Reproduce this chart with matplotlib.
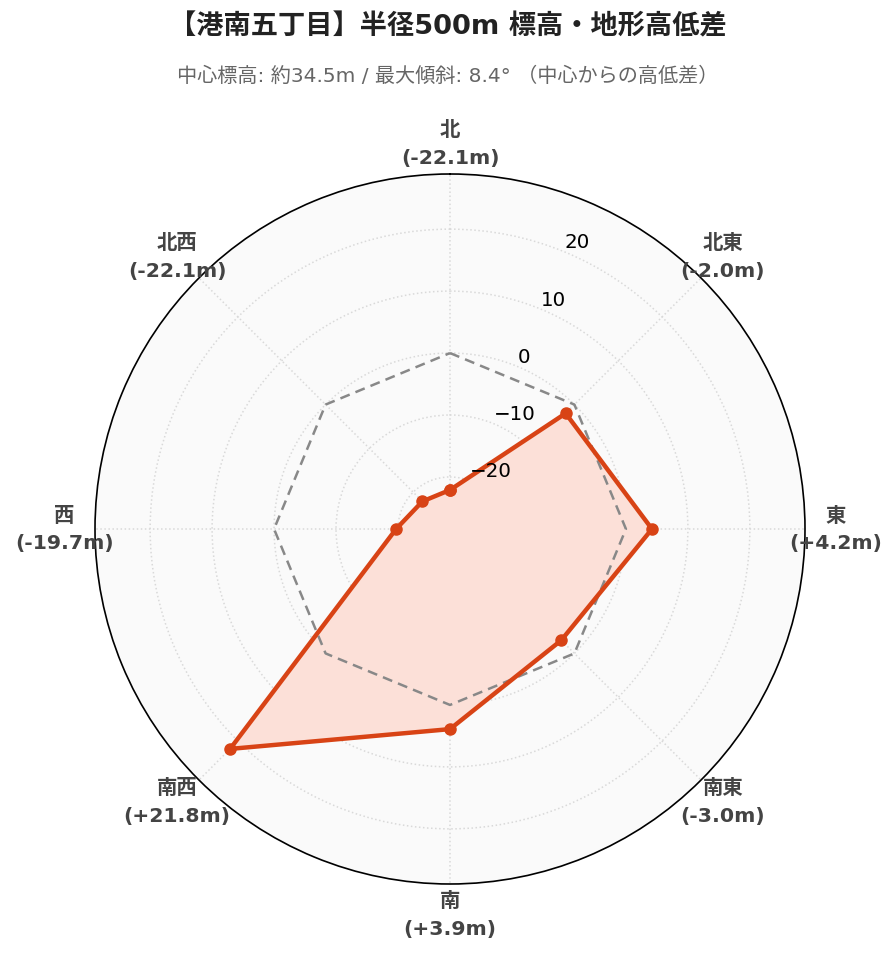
import numpy as np
import matplotlib
matplotlib.use('Agg')
import matplotlib.pyplot as plt

plt.rcParams['font.family'] = ['DejaVu Sans', 'Noto Sans CJK JP']

# データ（中心からの高低差, m）
directions = ['北', '北東', '東', '南東', '南', '南西', '西', '北西']
angles_deg = [0, 45, 90, 135, 180, 225, 270, 315]
diffs = [-22.1, -2.0, 4.2, -3.0, 3.9, 21.8, -19.7, -22.1]
reference = [0, 0, 0, 0, 0, 0, 0, 0]
rticks = [-20, -10, 0, 10, 20]
rtick_labels = ['\u221220', '\u221210', '0', '10', '20']

title = '【港南五丁目】半径500m 標高・地形高低差'
subtitle = '中心標高: 約34.5m / 最大傾斜: 8.4° （中心からの高低差）'

line_color = '#d84315'

fig = plt.figure(figsize=(8.96, 9.62), dpi=100)
ax = fig.add_axes([95 / 896, 77 / 962, 710 / 896, 710 / 962], projection='polar')
ax.set_theta_zero_location('N')
ax.set_theta_direction(-1)
ax.set_facecolor('#fafafa')
ax.set_ylim(-28.4, 28.9)

theta = np.deg2rad(angles_deg)
theta_c = np.append(theta, theta[0])
vals_c = np.append(diffs, diffs[0])
ref_c = np.append(reference, reference[0])

ax.fill(theta_c, vals_c, color='#fce0d8', zorder=2)
ax.plot(theta_c, ref_c, color='#888888', lw=1.8, ls=(0, (4, 2.5)), zorder=3)
ax.plot(theta_c, vals_c, color=line_color, lw=3.2, marker='o', ms=8, zorder=4)

ax.set_rgrids(rticks, labels=[''] * len(rticks))
ax.set_thetagrids(angles_deg, labels=[''] * len(angles_deg))
ax.grid(True, color='#d9d9d9', ls=':', lw=1.1)
ax.spines['polar'].set_color('black')
ax.spines['polar'].set_linewidth(1.2)

# 半径方向の目盛りラベル
for t, s in zip(rticks, rtick_labels):
    ax.annotate(s, (np.deg2rad(22.5), t), xytext=(0, 0.5), textcoords='offset points',
                ha='left', va='bottom', fontsize=14.3, color='black', zorder=5)

# 方位ラベル
for a, name, v in zip(angles_deg, directions, diffs):
    r = 0.5 * 1.087
    x = 0.5 + r * np.sin(np.deg2rad(a))
    y = 0.5 + r * np.cos(np.deg2rad(a))
    ax.text(x, y, f'{name}\n({v:+.1f}m)', transform=ax.transAxes,
            ha='center', va='center', fontsize=14.7, fontweight='bold',
            color='#444444', linespacing=1.6)

fig.text(0.5, 1 - 27 / 962, title, ha='center', va='center',
         fontsize=19.6, fontweight='bold', color='#222222')
fig.text(0.5, 1 - 76 / 962, subtitle, ha='center', va='center',
         fontsize=14.5, color='#666666')

fig.savefig('out.png', dpi=100, facecolor='white')
